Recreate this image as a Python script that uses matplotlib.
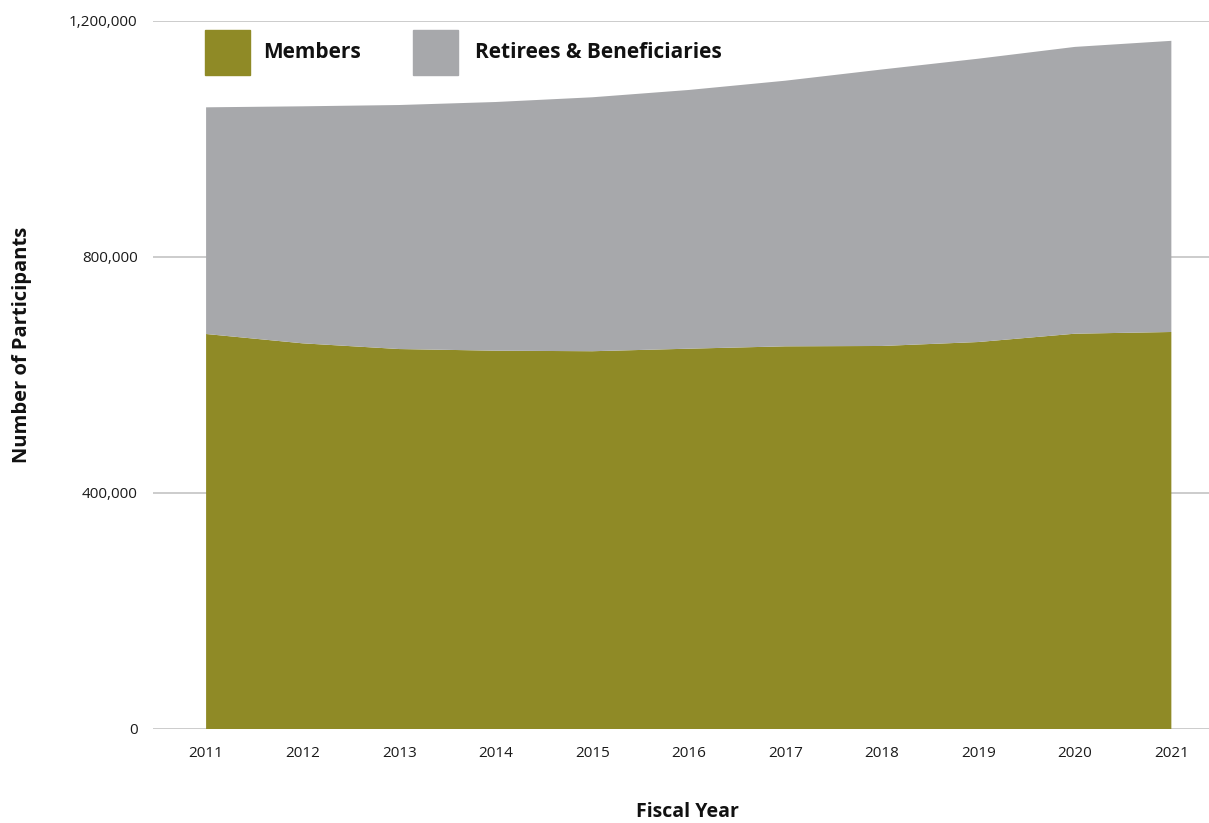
import matplotlib
matplotlib.use("Agg")
import matplotlib.pyplot as plt
from matplotlib.patches import Rectangle
from matplotlib.ticker import FuncFormatter

years = [2011, 2012, 2013, 2014, 2015, 2016, 2017, 2018, 2019, 2020, 2021]
members = [669500, 653700, 644000, 641200, 640300, 644600, 648600, 649200, 655900, 670000, 672900]
retirees = [384200, 401700, 413600, 421500, 430400, 438500, 450200, 468600, 480200, 486100, 493500]
series_names = ["Members", "Retirees & Beneficiaries"]
y_ticks = [0, 400000, 800000, 1200000]

OLIVE = "#8F8A26"
GREY = "#A7A8AB"
GRID = "#C8C8C8"

plt.rcParams["font.family"] = ["Open Sans", "DejaVu Sans"]

W, H = 1209, 823
fig = plt.figure(figsize=(W / 100, H / 100), dpi=100)
ax = fig.add_axes([153 / W, 1 - 729 / H, (1209 - 153) / W, (729 - 21) / H])

ax.stackplot(years, members, retirees, colors=[OLIVE, GREY], linewidth=0, zorder=2)

ax.set_xlim(2010.45, 2021.39)
ax.set_ylim(0, 1200000)
ax.set_yticks(y_ticks)
ax.yaxis.set_major_formatter(FuncFormatter(lambda v, p: f"{int(v):,}"))
ax.set_xticks(years)
ax.set_xticklabels([str(y) for y in years])

ax.grid(axis="y", color=GRID, linewidth=1.3, zorder=1)
ax.set_axisbelow(True)
for s in ax.spines.values():
    s.set_visible(False)
ax.tick_params(axis="both", length=0, labelsize=11, colors="#1a1a1a")
ax.tick_params(axis="y", pad=11)
ax.tick_params(axis="x", pad=12)

fig.text(22 / W, 1 - 345 / H, "Number of Participants", rotation=90,
         ha="center", va="center", fontsize=14.5, fontweight="bold", color="#111111")
fig.text(687 / W, 1 - 812 / H, "Fiscal Year", ha="center", va="center",
         fontsize=14, fontweight="bold", color="#111111")

# legend swatches and labels drawn in figure pixels
legend_items = [(205, OLIVE, series_names[0], 263), (413, GREY, series_names[1], 475)]
for x0, col, name, tx in legend_items:
    fig.patches.append(Rectangle((x0 / W, 1 - 75 / H), 45 / W, 45 / H,
                                 transform=fig.transFigure, color=col))
    fig.text(tx / W, 1 - 52 / H, name, ha="left", va="center",
             fontsize=15, fontweight="bold", color="#111111")

fig.savefig("out.png", dpi=100, facecolor="white")
